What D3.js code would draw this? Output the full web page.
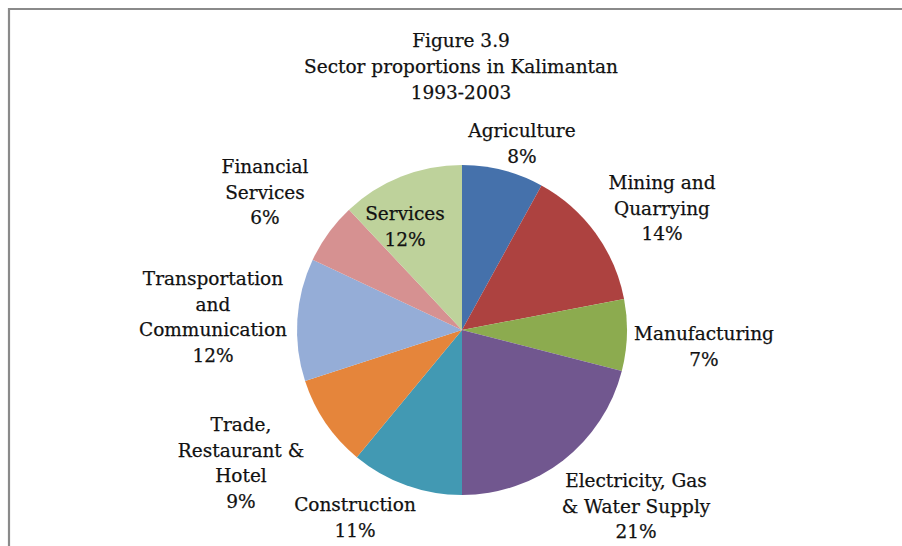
<!DOCTYPE html>
<html>
<head>
<meta charset="utf-8">
<script src="https://cdn.jsdelivr.net/npm/d3@7"></script>
<style>
  html, body { margin: 0; padding: 0; background: #fff; }
  svg { display: block; }
  text { font-family: "DejaVu Serif", "Liberation Serif", serif; fill: #111; stroke: #111; stroke-width: 0.25; }
</style>
</head>
<body>
<svg id="chart" width="902" height="546"></svg>
<script>
// Sector shares of the Kalimantan economy, 1993-2003 (percent)
const sectors = [
  "Agriculture", "Mining and Quarrying", "Manufacturing",
  "Electricity, Gas & Water Supply", "Construction",
  "Trade, Restaurant & Hotel", "Transportation and Communication",
  "Financial Services", "Services"
];
const shares = [8, 14, 7, 21, 11, 9, 12, 6, 12];
const colors = [
  "#4571ab", "#ad4240", "#8cab4f", "#71578f", "#4299b3",
  "#e5853b", "#95add7", "#d69191", "#bed29b"
];
// Label text split into lines as printed beside each slice
const labelLines = [
  ["Agriculture"],
  ["Mining and", "Quarrying"],
  ["Manufacturing"],
  ["Electricity, Gas", "& Water Supply"],
  ["Construction"],
  ["Trade,", "Restaurant &", "Hotel"],
  ["Transportation", "and", "Communication"],
  ["Financial", "Services"],
  ["Services"]
];
// Where each label block sits, given as [x, y of first line]
const labelAnchors = [
  [522, 130], [662, 182], [704, 333], [636, 480], [355, 504],
  [241, 424], [213, 278], [265, 166], [405, 213]
];
const titleLines = ["Figure 3.9", "Sector proportions in Kalimantan", "1993-2003"];

const svg = d3.select("#chart");
const W = 902, H = 546;

// frame
svg.append("path")
  .attr("d", `M9,${H} V9 H${W}`)
  .attr("fill", "none")
  .attr("stroke", "#8a8a8a")
  .attr("stroke-width", 2.2);

const cx = 462, cy = 330, R = 165;
const pie = d3.pie().sort(null).value(d => d.v);
const arc = d3.arc().innerRadius(0).outerRadius(R);
const data = sectors.map((s, i) => ({ name: s, v: shares[i], i }));

const g = svg.append("g").attr("transform", `translate(${cx},${cy})`);
g.selectAll("path.slice")
  .data(pie(data))
  .join("path")
  .attr("class", "slice")
  .attr("d", arc)
  .attr("fill", d => colors[d.data.i])
  .attr("stroke", "none");

const FS = 18.5;

// title
svg.append("g").selectAll("text")
  .data(titleLines)
  .join("text")
  .attr("x", 461)
  .attr("y", (d, i) => 47 + i * 26)
  .attr("text-anchor", "middle")
  .attr("font-size", FS)
  .text(d => d);

// labels
const lineH = 25.5;
const lab = svg.append("g");
data.forEach((d, i) => {
  const lines = labelLines[i].concat([d.v + "%"]);
  const [x, y0] = labelAnchors[i];
  lab.append("text")
    .attr("text-anchor", "middle")
    .attr("font-size", FS)
    .selectAll("tspan")
    .data(lines)
    .join("tspan")
    .attr("x", x)
    .attr("y", (t, k) => y0 + 7 + k * lineH)
    .text(t => t);
});
</script>
</body>
</html>
